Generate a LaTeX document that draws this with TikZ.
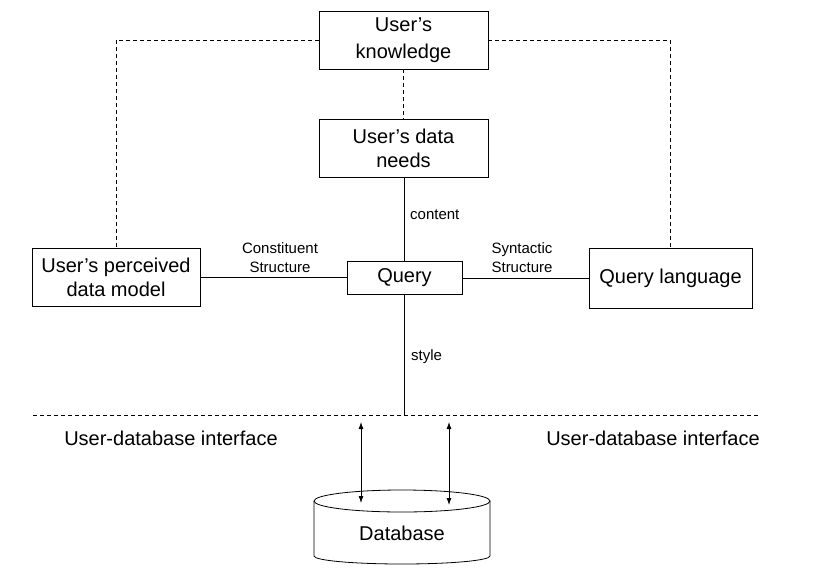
\documentclass[tikz,border=0pt]{standalone}
\usepackage{fontspec}
\setmainfont{Liberation Sans}
\usetikzlibrary{arrows.meta,positioning}

\begin{document}
\begin{tikzpicture}[
    x=1pt, y=-1pt,
    box/.style={rectangle, draw, line width=0.8pt, align=center, font=\fontsize{20}{24}\selectfont, inner sep=0pt},
    tag/.style={font=\fontsize{15}{19}\selectfont, align=center, inner sep=0pt},
    iface/.style={font=\fontsize{20}{24}\selectfont, inner sep=0pt},
    link/.style={line width=0.8pt},
    dashlink/.style={line width=0.8pt, dash pattern=on 4pt off 3pt},
    arrow/.style={<->, >={Latex[length=7pt,width=5pt]}, line width=0.8pt}
]
    \useasboundingbox (0,0) rectangle (816,570);

    % Boxes
    \node[box, minimum width=169pt, minimum height=58pt, font=\fontsize{20}{27}\selectfont] (know) at (403.5,40) {User's\\knowledge};
    \node[box, minimum width=169pt, minimum height=58pt] (needs) at (403.5,148.5) {User's data\\needs};
    \node[box, minimum width=168pt, minimum height=58pt] (model) at (116,277.5) {User's perceived\\data model};
    \node[box, minimum width=115pt, minimum height=33pt] (query) at (404.5,278) {Query};
    \node[box, minimum width=163pt, minimum height=60pt] (lang) at (670.5,278) {Query language};

    % Connectors
    \draw[dashlink] (know.west) -| (model.north);
    \draw[dashlink] (know.east) -| (lang.north);
    \draw[dashlink] (know.south) -- (needs.north);
    \draw[link] (needs.south -| query.north) -- (query.north);
    \draw[link] (model.east) -- (model.east -| query.west);
    \draw[link] (lang.west -| query.east) -- (lang.west);

    % Labels
    \node[tag] (constit) at (280,258) {Constituent\\Structure};
    \node[tag] (syntac) at (522,258) {Syntactic\\Structure};
    \node[tag, anchor=west] (content) at (410,215) {content};
    \node[tag, anchor=west] (style) at (411,357) {style};

    % Interface
    \coordinate (ifl) at (33,415);
    \coordinate (ifr) at (760,415);
    \coordinate (ifq) at (404.5,415);
    \draw[dashlink] (ifl) -- (ifr);
    \draw[link] (query.south) -- (ifq);
    \node[iface] (ifleft) at (171,438) {User-database interface};
    \node[iface] (ifright) at (653,438) {User-database interface};

    % Database
    \draw[link] (314,501) -- (314,556) arc[start angle=180, end angle=0, x radius=88, y radius=8] -- (490,501);
    \draw[link] (402,501) ellipse [x radius=88, y radius=11];
    \node[iface] (db) at (402,533) {Database};

    % Access arrows
    \coordinate (a1) at (361,422);
    \coordinate (b1) at (361,503);
    \coordinate (a2) at (449,422);
    \coordinate (b2) at (449,505);
    \draw[arrow] (a1) -- (b1);
    \draw[arrow] (a2) -- (b2);
\end{tikzpicture}
\end{document}
